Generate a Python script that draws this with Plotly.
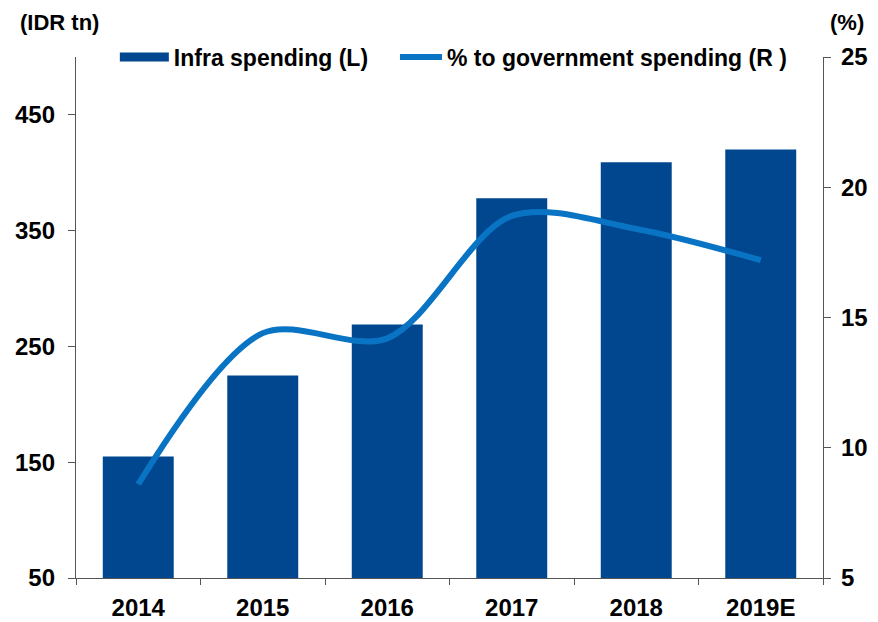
import plotly.graph_objects as go

years = ["2014", "2015", "2016", "2017", "2018", "2019E"]
infra_spending = [155, 225, 269, 378, 409, 420]
pct_gov_spending = [8.6, 14.4, 14.2, 18.9, 18.4, 17.2]
left_ticks = [50, 150, 250, 350, 450]
right_ticks = [5, 10, 15, 20, 25]

BAR = "#00478F"
LINE = "#0A74C4"
FONT = "Liberation Sans, Arial, sans-serif"
TICK_FS = 24
LEG_FS = 23

fig = go.Figure()
fig.add_trace(go.Bar(x=years, y=infra_spending, marker=dict(color=BAR, line=dict(width=0)),
                     width=0.57, showlegend=False, name="Infra spending (L)"))
fig.add_trace(go.Scatter(x=[None], y=[None], mode="lines", line=dict(color=BAR, width=9),
                         name="Infra spending (L)", showlegend=True, legend="legend"))
fig.add_trace(go.Scatter(x=years, y=pct_gov_spending, yaxis="y2", mode="lines",
                         line=dict(color=LINE, width=6, shape="spline", smoothing=0.9),
                         name="% to government spending (R )", legend="legend2"))

axis_common = dict(showgrid=False, zeroline=False, showline=True, linecolor="#555555", linewidth=1.3,
                   ticks="outside", tickcolor="#555555",
                   tickfont=dict(family=FONT, size=TICK_FS, color="black", weight="bold"))

leg_font = dict(family=FONT, size=LEG_FS, color="black", weight="bold")

fig.update_layout(
    width=870, height=614,
    margin=dict(l=68, r=55, t=49, b=44, autoexpand=False),
    plot_bgcolor="white", paper_bgcolor="white",
    xaxis=dict(**axis_common, type="category", tickson="boundaries", ticklen=6,
               ticklabelstandoff=8),
    yaxis=dict(**axis_common, range=[50, 500], tickvals=left_ticks, ticklen=7, ticklabelstandoff=8),
    yaxis2=dict(**axis_common, range=[5, 25], tickvals=right_ticks, overlaying="y", side="right",
                ticklen=7, ticklabelstandoff=5),
    legend=dict(orientation="h", x=0.052, xanchor="left", y=1.0, yanchor="middle",
                itemwidth=49, font=leg_font, bgcolor="rgba(0,0,0,0)"),
    legend2=dict(orientation="h", x=0.427, xanchor="left", y=1.0, yanchor="middle",
                 itemwidth=42, font=leg_font, bgcolor="rgba(0,0,0,0)"),
)
fig.add_annotation(text="(IDR tn)", xref="paper", yref="paper", x=-0.078, y=1.0, yshift=35,
                   xanchor="left", yanchor="middle", showarrow=False,
                   font=dict(family=FONT, size=22, color="black", weight="bold"))
fig.add_annotation(text="(%)", xref="paper", yref="paper", x=1.0, y=1.0, yshift=35, xshift=5,
                   xanchor="left", yanchor="middle", showarrow=False,
                   font=dict(family=FONT, size=22, color="black", weight="bold"))

fig.write_html("out.html")
